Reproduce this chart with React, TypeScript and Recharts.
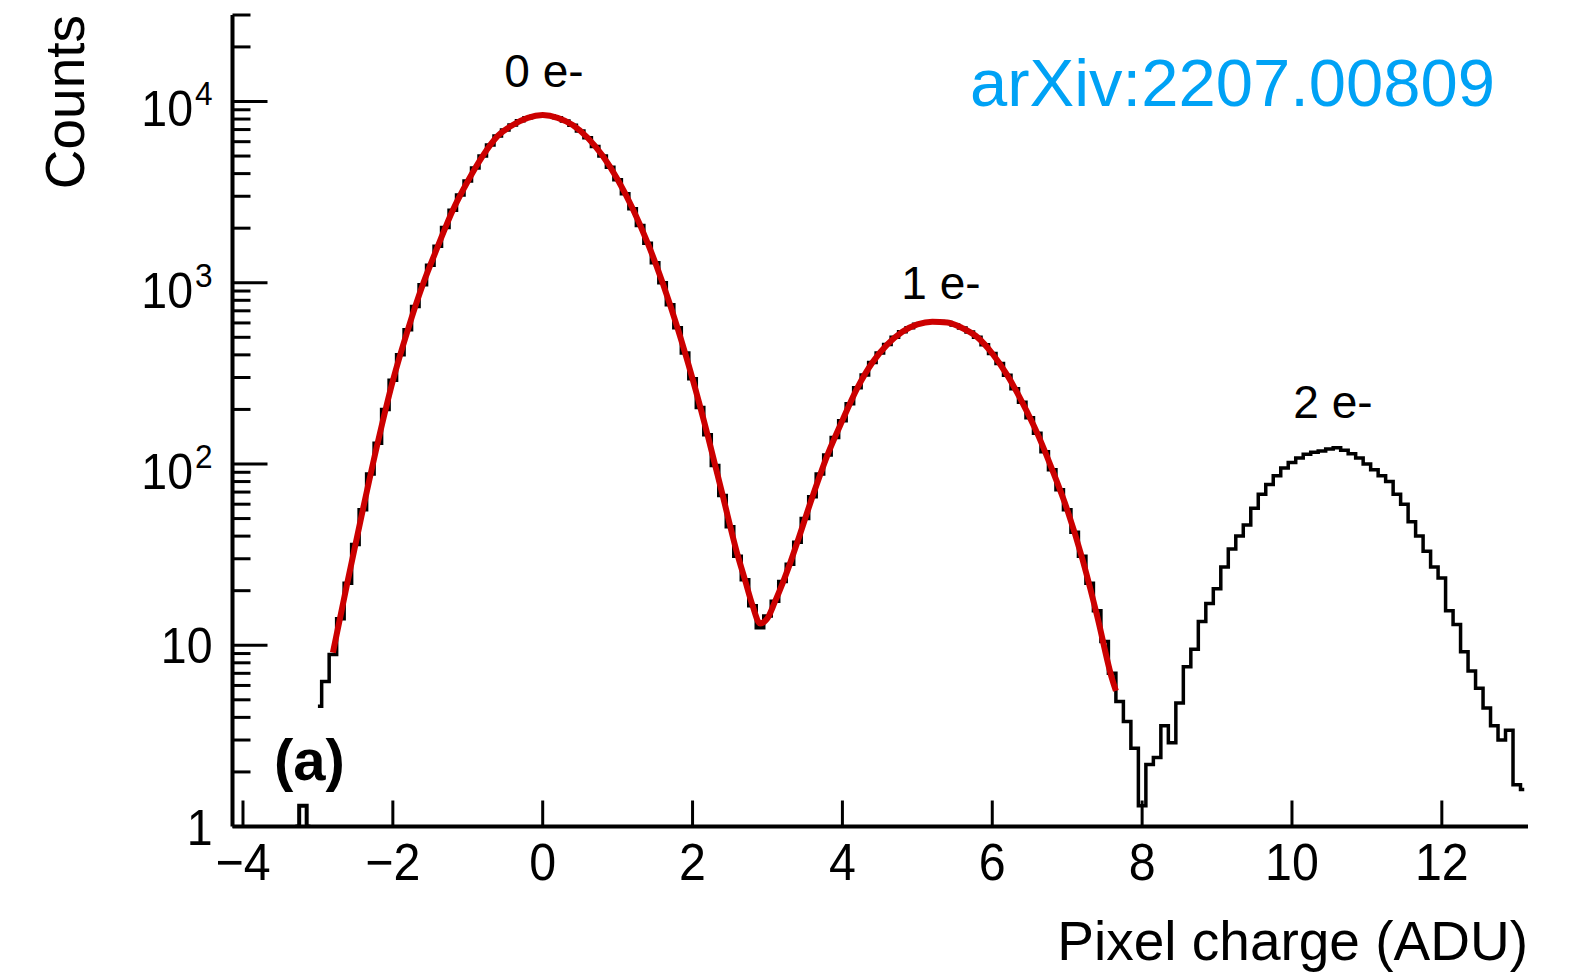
import React from 'react';
import { LineChart, Line, XAxis, YAxis } from 'recharts';

const FONT = '"Liberation Sans", Arial, Helvetica, sans-serif';

// Histogram bin centres (ADU)
const binCenters = [
  -3.3, -3.2, -3.1, -3.0, -2.9, -2.8, -2.7, -2.6, -2.5, -2.4,
  -2.3, -2.2, -2.1, -2.0, -1.9, -1.8, -1.7, -1.6, -1.5, -1.4,
  -1.3, -1.2, -1.1, -1.0, -0.9, -0.8, -0.7, -0.6, -0.5, -0.4,
  -0.3, -0.2, -0.1, 0.0, 0.1, 0.2, 0.3, 0.4, 0.5, 0.6,
  0.7, 0.8, 0.9, 1.0, 1.1, 1.2, 1.3, 1.4, 1.5, 1.6,
  1.7, 1.8, 1.9, 2.0, 2.1, 2.2, 2.3, 2.4, 2.5, 2.6,
  2.7, 2.8, 2.9, 3.0, 3.1, 3.2, 3.3, 3.4, 3.5, 3.6,
  3.7, 3.8, 3.9, 4.0, 4.1, 4.2, 4.3, 4.4, 4.5, 4.6,
  4.7, 4.8, 4.9, 5.0, 5.1, 5.2, 5.3, 5.4, 5.5, 5.6,
  5.7, 5.8, 5.9, 6.0, 6.1, 6.2, 6.3, 6.4, 6.5, 6.6,
  6.7, 6.8, 6.9, 7.0, 7.1, 7.2, 7.3, 7.4, 7.5, 7.6,
  7.7, 7.8, 7.9, 8.0, 8.1, 8.2, 8.3, 8.4, 8.5, 8.6,
  8.7, 8.8, 8.9, 9.0, 9.1, 9.2, 9.3, 9.4, 9.5, 9.6,
  9.7, 9.8, 9.9, 10.0, 10.1, 10.2, 10.3, 10.4, 10.5, 10.6,
  10.7, 10.8, 10.9, 11.0, 11.1, 11.2, 11.3, 11.4, 11.5, 11.6,
  11.7, 11.8, 11.9, 12.0, 12.1, 12.2, 12.3, 12.4, 12.5, 12.6,
  12.7, 12.8, 12.9, 13.0, 13.1,
];

// Histogram counts per bin
const binCounts = [
  1, 1.3, 1, 4.6, 6.3, 8.9, 14, 22, 36, 56,
  88, 130, 200, 290, 400, 550, 740, 975, 1250, 1590,
  2020, 2510, 3050, 3640, 4300, 5000, 5750, 6450, 6950, 7420,
  7820, 8120, 8350, 8420, 8350, 8120, 7800, 7400, 6880, 6300,
  5650, 5000, 4330, 3700, 3100, 2560, 2070, 1650, 1290, 1000,
  755, 565, 410, 295, 205, 145, 98, 67, 45, 31,
  23, 16.5, 12.5, 14.5, 17.5, 22.5, 28, 37, 50, 66,
  88, 112, 140, 173, 215, 263, 310, 363, 410, 457,
  500, 537, 565, 590, 602, 610, 612, 603, 585, 562,
  535, 501, 455, 407, 358, 309, 260, 219, 180, 148,
  117, 93, 72, 56, 42, 31, 22, 15.5, 10.5, 7,
  4.9, 3.8, 2.7, 1.3, 2.2, 2.4, 3.6, 2.9, 4.8, 7.6,
  9.5, 13.5, 17, 20.5, 27, 34, 40, 46, 57, 68,
  77, 86, 95, 102, 108, 113, 116, 118, 121, 123,
  119, 114, 108, 100, 93, 86, 80, 68, 60, 48,
  40, 33, 27, 23.5, 15.5, 13, 9.2, 7.2, 5.8, 4.5,
  3.6, 3.0, 3.4, 1.7, 1.6,
];

// Fit curve (0 e- + 1 e- peaks)
const fitX = [
  -2.8, -2.6, -2.4, -2.2, -2.0, -1.8, -1.6, -1.4, -1.2, -1.0,
  -0.8, -0.6, -0.4, -0.2, 0.0, 0.2, 0.4, 0.6, 0.8, 1.0,
  1.2, 1.4, 1.6, 1.8, 2.0, 2.2, 2.4, 2.6, 2.7, 2.8,
  2.9, 3.0, 3.1, 3.2, 3.3, 3.4, 3.6, 3.8, 4.0, 4.2,
  4.4, 4.6, 4.8, 5.0, 5.2, 5.4, 5.6, 5.8, 6.0, 6.2,
  6.4, 6.6, 6.8, 7.0, 7.2, 7.4, 7.6, 7.65,
];
const fitY = [
  9.1, 22.9, 56, 132, 288, 550, 977, 1585, 2512, 3631,
  5012, 6457, 7413, 8128, 8414, 8128, 7413, 6310, 5012, 3715,
  2570, 1660, 1000, 562, 295, 145, 67.6, 31.6, 22.9, 16.6,
  13.2, 14.1, 17.4, 21.9, 28.2, 37.2, 66, 112, 174, 263,
  363, 457, 537, 589, 610, 603, 562, 501, 407, 309,
  219, 148, 93, 56, 30.2, 14.5, 6.5, 5.6,
];

const xTicks = [-4, -2, 0, 2, 4, 6, 8, 10, 12];
const yTicks = [
  1, 2, 3, 4, 5, 6, 7, 8, 9,
  10, 20, 30, 40, 50, 60, 70, 80, 90,
  100, 200, 300, 400, 500, 600, 700, 800, 900,
  1000, 2000, 3000, 4000, 5000, 6000, 7000, 8000, 9000,
  10000, 20000, 30000,
];
const X_DOMAIN = [-4.14, 13.15];
const Y_DOMAIN = [1, 30000];

const histData = binCenters.map((x, i) => ({ x, y: binCounts[i] }));
const fitData = fitX.map((x, i) => ({ x, y: fitY[i] }));

function YTick(props: any) {
  const { x, y, payload } = props;
  const v = payload.value;
  const exp = Math.round(Math.log10(v));
  const major = Math.abs(v - Math.pow(10, exp)) < 1e-6;
  const len = major ? 35 : 18;
  let label: any = null;
  if (major) {
    if (exp <= 1) {
      label = (
        <text transform={`translate(${x - 20},${y + 18}) scale(0.93,1)`} textAnchor="end"
          fontFamily={FONT} fontSize={50} fill="#000">{exp === 0 ? '1' : '10'}</text>
      );
    } else {
      label = (
        <text transform={`translate(${x - 20},${y + 25}) scale(0.93,1)`} textAnchor="end"
          fontFamily={FONT} fontSize={50} fill="#000">
          <tspan>10</tspan>
          <tspan dx={2} dy={-21} fontSize={34}>{exp}</tspan>
        </text>
      );
    }
  }
  return (
    <g>
      <line x1={x} x2={x + len} y1={y} y2={y} stroke="#000" strokeWidth={3} />
      {label}
    </g>
  );
}

function XTick(props: any) {
  const { x, y, payload } = props;
  const v = payload.value;
  const label = v < 0 ? '\u2212' + Math.abs(v) : String(v);
  return (
    <g>
      <line x1={x} x2={x} y1={y} y2={y - 26} stroke="#000" strokeWidth={3} />
      <text transform={`translate(${x},${y + 53.5}) scale(0.93,1)`} textAnchor="middle"
        fontFamily={FONT} fontSize={52} fill="#000">{label}</text>
    </g>
  );
}

export default function App() {
  return (
    <div style={{ position: 'absolute', left: 0, top: 0, width: 1578, height: 973, background: '#fff' }}>
      <LineChart
        width={1578}
        height={973}
        margin={{ top: 15, right: 50, left: 132.5, bottom: 86.5 }}
      >
        <XAxis
          dataKey="x"
          type="number"
          domain={X_DOMAIN}
          allowDataOverflow
          ticks={xTicks}
          interval={0}
          height={60}
          tickSize={0}
          tickMargin={0}
          tickLine={false}
          axisLine={{ stroke: '#000', strokeWidth: 4 }}
          tick={<XTick />}
        />
        <XAxis
          xAxisId="top"
          orientation="top"
          dataKey="x"
          type="number"
          domain={X_DOMAIN}
          allowDataOverflow
          height={0}
          tick={false}
          tickLine={false}
          axisLine={{ stroke: '#000', strokeWidth: 2 }}
        />
        <YAxis
          scale="log"
          type="number"
          domain={Y_DOMAIN}
          allowDataOverflow
          ticks={yTicks}
          interval={0}
          width={100}
          tickSize={0}
          tickMargin={0}
          tickLine={false}
          axisLine={{ stroke: '#000', strokeWidth: 4 }}
          tick={<YTick />}
        />
        <YAxis
          yAxisId="right"
          orientation="right"
          scale="log"
          type="number"
          domain={Y_DOMAIN}
          allowDataOverflow
          width={0}
          tick={false}
          tickLine={false}
          axisLine={{ stroke: '#000', strokeWidth: 2 }}
        />
        <Line
          data={histData.slice(0, 3)}
          dataKey="y"
          type="step"
          stroke="#000"
          strokeWidth={4}
          dot={false}
          isAnimationActive={false}
        />
        <Line
          data={histData.slice(3)}
          dataKey="y"
          type="step"
          stroke="#000"
          strokeWidth={3.5}
          dot={false}
          isAnimationActive={false}
        />
        <Line
          data={fitData}
          dataKey="y"
          type="monotone"
          stroke="#cc0000"
          strokeWidth={6}
          dot={false}
          isAnimationActive={false}
        />
      </LineChart>
      <svg width={1578} height={973} style={{ position: 'absolute', left: 0, top: 0, pointerEvents: 'none' }}>
        <text transform="translate(84,15) rotate(-90)" textAnchor="end" fontFamily={FONT} fontSize={55} fill="#000">Counts</text>
        <text x={1528} y={960} textAnchor="end" fontFamily={FONT} fontSize={55} fill="#000">Pixel charge (ADU)</text>
        <text x={1495} y={106} textAnchor="end" fontFamily={FONT} fontSize={66} fill="#00a2f5" textLength={525} lengthAdjust="spacingAndGlyphs">arXiv:2207.00809</text>
        <text x={544} y={87} textAnchor="middle" fontFamily={FONT} fontSize={46} fill="#000">0 e-</text>
        <text x={941} y={299} textAnchor="middle" fontFamily={FONT} fontSize={46} fill="#000">1 e-</text>
        <text x={1333} y={418} textAnchor="middle" fontFamily={FONT} fontSize={46} fill="#000">2 e-</text>
        <text x={274} y={780} fontFamily={FONT} fontSize={58} fontWeight="bold" fill="#000">(a)</text>
      </svg>
    </div>
  );
}
